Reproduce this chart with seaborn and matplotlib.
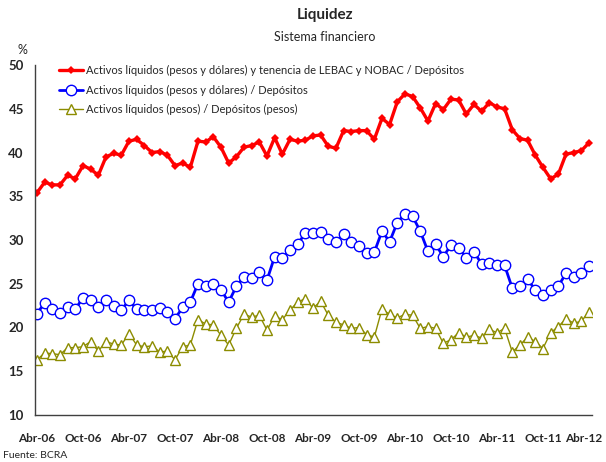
import numpy as np
import pandas as pd
import matplotlib
matplotlib.use("Agg")
import matplotlib.pyplot as plt
import matplotlib.transforms as mtransforms
import seaborn as sns

# Series mensuales Abr-06 .. Abr-12 (73 meses)
activos_lebac = [35.4, 36.6, 36.3, 36.3, 37.4, 37.0, 38.5, 38.1, 37.4, 39.5,
                 39.9, 39.7, 41.3, 41.5, 40.8, 40.0, 40.1, 39.7, 38.5, 38.8,
                 38.3, 41.3, 41.2, 41.8, 40.6, 38.8, 39.5, 40.6, 40.8, 41.2,
                 39.6, 41.7, 39.8, 41.5, 41.3, 41.4, 41.9, 42.0, 40.7, 40.5,
                 42.5, 42.4, 42.5, 42.5, 41.5, 43.9, 43.2, 45.8, 46.7, 46.4,
                 45.1, 43.6, 45.6, 44.9, 46.1, 46.0, 44.4, 45.5, 44.7, 45.7,
                 45.2, 45.0, 42.6, 41.6, 41.4, 39.7, 38.3, 37.0, 37.5, 39.8,
                 40.0, 40.2, 41.1]
activos_pd = [21.6, 22.8, 22.1, 21.7, 22.3, 22.1, 23.4, 23.2, 22.4, 23.1,
              22.5, 22.0, 23.1, 22.1, 22.0, 22.0, 22.2, 21.8, 21.0, 22.3,
              22.9, 25.0, 24.7, 25.0, 24.3, 22.9, 24.7, 25.8, 25.7, 26.3,
              25.4, 28.1, 27.9, 28.9, 29.5, 30.8, 30.8, 30.9, 30.1, 29.8,
              30.7, 29.8, 29.3, 28.5, 28.6, 31.0, 29.8, 32.0, 33.0, 32.7,
              31.0, 28.7, 29.5, 28.1, 29.4, 29.1, 28.0, 28.6, 27.3, 27.4,
              27.2, 27.1, 24.5, 24.7, 25.5, 24.3, 23.7, 24.3, 24.7, 26.2,
              25.8, 26.2, 27.0]
activos_pesos = [16.3, 17.1, 17.0, 16.9, 17.7, 17.7, 17.8, 18.4, 17.3, 18.4,
                 18.1, 18.0, 19.3, 18.0, 17.8, 17.9, 17.2, 17.3, 16.3, 17.8,
                 18.0, 20.9, 20.4, 20.3, 19.1, 18.0, 19.9, 21.5, 21.2, 21.4,
                 19.7, 21.3, 20.9, 22.0, 22.9, 23.3, 22.2, 23.0, 21.4, 20.6,
                 20.3, 19.9, 20.0, 19.2, 18.9, 22.1, 21.5, 21.1, 21.5, 21.4,
                 19.9, 20.1, 19.9, 18.2, 18.6, 19.4, 18.9, 19.1, 18.8, 19.8,
                 19.4, 19.9, 17.2, 18.0, 18.9, 18.4, 17.6, 19.4, 20.1, 21.0,
                 20.5, 20.7, 21.8]
tick_labels = ["Abr-06", "Oct-06", "Abr-07", "Oct-07", "Abr-08", "Oct-08",
               "Abr-09", "Oct-09", "Abr-10", "Oct-10", "Abr-11", "Oct-11", "Abr-12"]
nombres = ["Activos líquidos (pesos y dólares) y tenencia de LEBAC y NOBAC / Depósitos",
           "Activos líquidos (pesos y dólares) / Depósitos",
           "Activos líquidos (pesos) / Depósitos (pesos)"]

sns.set_style("white")
plt.rcParams['font.family'] = ['Lato', 'DejaVu Sans']

mes = np.arange(len(activos_lebac))
df = pd.DataFrame({"mes": mes, "lebac": activos_lebac,
                   "pd": activos_pd, "pesos": activos_pesos})

fig = plt.figure(figsize=(6.06, 4.62), dpi=100)
ax = fig.add_axes([35 / 606, 47 / 462, 557 / 606, 350 / 462])

sns.lineplot(data=df, x="mes", y="lebac", ax=ax, color="#ff0000", lw=2.4,
             marker="D", markersize=4.5, markeredgewidth=0, label=nombres[0])
sns.lineplot(data=df, x="mes", y="pd", ax=ax, color="#0000ff", lw=2.0,
             marker="o", markersize=7.5, markerfacecolor="white",
             markeredgecolor="#0000ff", markeredgewidth=1.0, label=nombres[1])
sns.lineplot(data=df, x="mes", y="pesos", ax=ax, color="#8c8c00", lw=1.0,
             marker="^", markersize=6.5, markerfacecolor="white",
             markeredgecolor="#8c8c00", markeredgewidth=1.0, label=nombres[2])

ax.set_xlim(-0.26, 72.4)
ax.set_ylim(10, 50)
ax.set_yticks(range(10, 51, 5))
ax.set_xticks(range(0, 73, 6))
ax.set_xticklabels(tick_labels)
ax.set_xlabel("")
ax.set_ylabel("")

for s in ["top", "right"]:
    ax.spines[s].set_visible(False)
for s in ["left", "bottom"]:
    ax.spines[s].set_color("#404040")
    ax.spines[s].set_linewidth(1.0)

ax.tick_params(axis="y", direction="out", length=4, width=1, color="#404040",
               pad=4, labelsize=9.5)
ax.tick_params(axis="x", direction="in", length=3, width=1, color="#404040",
               pad=13, labelsize=8.5)
for t in ax.get_xticklabels() + ax.get_yticklabels():
    t.set_fontweight("bold")
# la última etiqueta queda pegada al borde
last = ax.get_xticklabels()[-1]
last.set_transform(last.get_transform() + mtransforms.ScaledTranslation(-5 / 100, 0, fig.dpi_scale_trans))

leg = ax.legend(loc="upper left", bbox_to_anchor=(0.035, 1.012), frameon=False,
                fontsize=8, handlelength=2.2, handletextpad=0.25,
                labelspacing=0.75, borderaxespad=0.0)

fig.text(325 / 606, 1 - 15 / 462, "Liquidez", ha="center", va="center",
         fontsize=11, fontweight="bold")
fig.text(325 / 606, 1 - 37 / 462, "Sistema financiero", ha="center", va="center",
         fontsize=9)
fig.text(22 / 606, 1 - 50 / 462, "%", ha="center", va="center", fontsize=9)
fig.text(3 / 606, 1 - 455 / 462, "Fuente: BCRA", ha="left", va="center", fontsize=7.5)

fig.savefig("out.png", dpi=100)
